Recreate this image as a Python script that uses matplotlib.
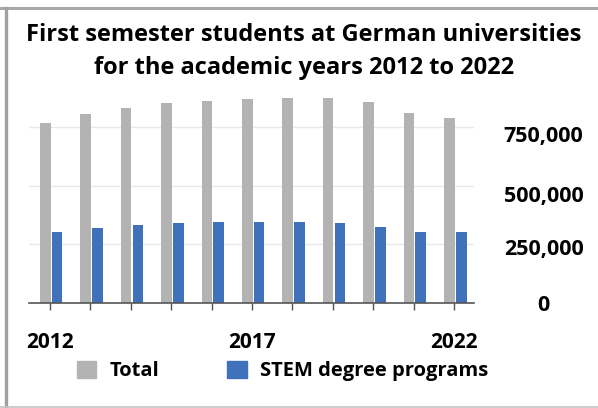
import numpy as np
import matplotlib.pyplot as plt
from matplotlib.lines import Line2D
from matplotlib.patches import Patch
import matplotlib.transforms as mtransforms

years = [2012, 2013, 2014, 2015, 2016, 2017, 2018, 2019, 2020, 2021, 2022]
total = [768000, 809000, 835000, 853000, 862000, 872000, 876000, 876000, 858000, 812000, 789000]
stem = [302000, 320000, 335000, 343000, 347000, 347000, 347000, 343000, 326000, 302000, 302000]
year_labels = ['2012', '', '', '', '', '2017', '', '', '', '', '2022']
y_ticks = [0, 250000, 500000, 750000]
y_labels = ['0', '250,000', '500,000', '750,000']
title_lines = ['First semester students at German universities',
               'for the academic years 2012 to 2022']

gray = '#b3b3b3'
blue = '#3f72ba'

plt.rcParams['font.family'] = ['Open Sans', 'DejaVu Sans']

fig = plt.figure(figsize=(5.98, 4.08), dpi=100)
ax = fig.add_axes([0.049, 0.2574, 0.744, 0.5735])

x = np.arange(len(years))
w = 0.265
ax.bar(x - 0.115, total, w, color=gray, zorder=2)
ax.bar(x + 0.177, stem, w, color=blue, zorder=2)

ax.set_xlim(-0.51, 10.5)
ax.set_ylim(0, 1000000)

ax.set_xticks(x)
ax.set_xticklabels(year_labels, fontsize=15, fontweight='bold')
ax.tick_params(axis='x', length=5, width=1, color='#555555', pad=16)

ax.yaxis.tick_right()
ax.set_yticks(y_ticks)
ax.set_yticklabels(y_labels, fontsize=15.5, fontweight='bold')
ax.tick_params(axis='y', length=0, pad=50)
# labels sit a bit below their gridlines in the original
shifts = [0, 3, 8, 7]
for lab, dy in zip(ax.get_yticklabels(), shifts):
    lab.set_horizontalalignment('center')
    lab.set_transform(lab.get_transform() + mtransforms.ScaledTranslation(0, -dy / 100, fig.dpi_scale_trans))

for v in y_ticks[1:]:
    ax.axhline(v, color='#e9e9e9', lw=1, zorder=1)

for s in ['top', 'right', 'left']:
    ax.spines[s].set_visible(False)
ax.spines['bottom'].set_color('#555555')
ax.spines['bottom'].set_linewidth(1.2)
ax.spines['bottom'].set_zorder(3)

fig.text(0.508, 1 - 40.7 / 408, title_lines[0], ha='center', va='baseline', fontsize=17, fontweight='bold')
fig.text(0.508, 1 - 74 / 408, title_lines[1], ha='center', va='baseline', fontsize=17, fontweight='bold')

handles = [Patch(color=gray, label='Total'), Patch(color=blue, label='STEM degree programs')]
fig.legend(handles=handles, loc='center', bbox_to_anchor=(0.4724, 1 - 371 / 408), ncol=2,
           frameon=False, prop={'size': 14.5, 'weight': 'bold'}, handlelength=0.95,
           handleheight=0.9, handletextpad=0.65, columnspacing=3.4)

# frame around the picture
fig.add_artist(Line2D([0.0, 1.0], [1 - 8 / 408, 1 - 8 / 408], color='#a8a8a8', lw=2.2))
fig.add_artist(Line2D([5.5 / 598, 5.5 / 598], [1 - 8 / 408, 1 - 406.5 / 408], color='#a0a0a0', lw=2.4))
fig.add_artist(Line2D([0.0, 1.0], [1 - 406.5 / 408, 1 - 406.5 / 408], color='#c4c4c4', lw=1.2))

fig.savefig('out.png', dpi=100)
